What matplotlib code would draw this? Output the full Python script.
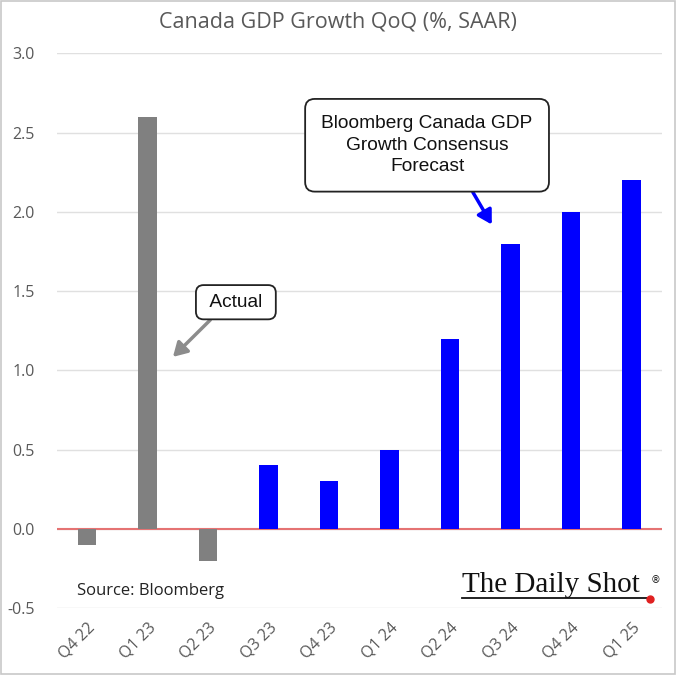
import matplotlib
matplotlib.use("Agg")
import matplotlib.pyplot as plt
from matplotlib.patches import Rectangle

categories = ["Q4 22", "Q1 23", "Q2 23", "Q3 23", "Q4 23", "Q1 24", "Q2 24", "Q3 24", "Q4 24", "Q1 25"]
values = [-0.1, 2.6, -0.2, 0.4, 0.3, 0.5, 1.2, 1.8, 2.0, 2.2]
is_actual = [True, True, True, False, False, False, False, False, False, False]
yticks = [-0.5, 0.0, 0.5, 1.0, 1.5, 2.0, 2.5, 3.0]

plt.rcParams['font.family'] = ['Open Sans', 'DejaVu Sans']

fig = plt.figure(figsize=(6.76, 6.75), dpi=100)
fig.patches.append(Rectangle((0.002, 0.002), 0.996, 0.996, transform=fig.transFigure,
                             fill=False, edgecolor='#c8c8c8', linewidth=1.2))
ax = fig.add_axes([0.084, 0.099, 0.895, 0.822])

colors = ['#808080' if a else '#0000ff' for a in is_actual]
x = list(range(len(categories)))
ax.bar(x, values, width=0.3, color=colors, zorder=3)

ax.set_ylim(-0.5, 3.0)
ax.set_xlim(-0.5, len(categories) - 0.5)
ax.set_yticks(yticks)
ax.set_yticklabels([f"{v:.1f}" for v in yticks], color='#595959', fontsize=11.5)
ax.set_xticks(x)
ax.set_xticklabels(categories, rotation=45, ha='right', rotation_mode='anchor',
                   color='#595959', fontsize=11.5)
ax.tick_params(axis='y', length=0, pad=16)
ax.tick_params(axis='x', length=0, pad=8)
for s in ax.spines.values():
    s.set_visible(False)
ax.grid(axis='y', color='#e0e0e0', linewidth=1, zorder=0)
ax.axhline(0, color='#e57373', linewidth=1.5, zorder=2)

fig.text(0.5, 0.968, "Canada GDP Growth QoQ (%, SAAR)", ha='center', va='center',
         fontsize=15.5, color='#595959')

# Annotations
ax.annotate("Bloomberg Canada GDP\nGrowth Consensus\nForecast", xy=(6.69, 1.92), xytext=(5.62, 2.42),
            ha='center', va='center', fontsize=13.8, color='#111111', family=['Liberation Sans'],
            linespacing=1.35,
            bbox=dict(boxstyle='round,pad=0.85,rounding_size=0.5', fc='white', ec='#222222', lw=1.3),
            arrowprops=dict(arrowstyle='-|>,head_length=0.6,head_width=0.35', color='#0000ff', lw=2.5,
                            shrinkA=0, shrinkB=0, relpos=(0.67, 0)),
            zorder=5)
ax.annotate(" Actual ", xy=(1.42, 1.085), xytext=(2.46, 1.43),
            ha='center', va='center', fontsize=13.8, color='#111111', family=['Liberation Sans'],
            bbox=dict(boxstyle='round,pad=0.45,rounding_size=0.4', fc='white', ec='#222222', lw=1.3),
            arrowprops=dict(arrowstyle='-|>,head_length=0.6,head_width=0.35', color='#8c8c8c', lw=2.5,
                            shrinkA=0, shrinkB=0, relpos=(0.24, 0)),
            zorder=5)

fig.text(0.114, 0.124, "Source: Bloomberg", ha='left', va='center', fontsize=12, color='#222222')

# Logo
fig.text(0.683, 0.123, "The Daily Shot", ha='left', va='baseline', fontsize=21,
         family=['Liberation Serif'], color='#111111')
fig.text(0.962, 0.14, "®", ha='left', va='center', fontsize=7, family=['DejaVu Sans'], color='#111111')
fig.add_artist(plt.Line2D([0.684, 0.962], [0.114, 0.114], transform=fig.transFigure,
                          color='#111111', lw=1.3))
fig.add_artist(plt.Line2D([0.962], [0.112], transform=fig.transFigure, marker='o',
                          color='#e02020', markersize=5))

fig.savefig("out.png", dpi=100)
